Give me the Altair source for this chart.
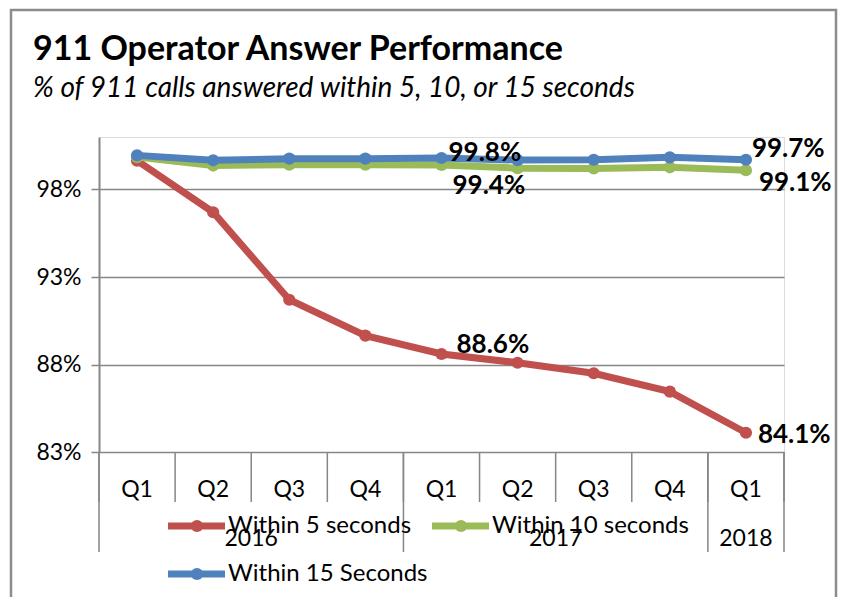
import altair as alt
import pandas as pd

# ---- data ----
quarters = ["Q1", "Q2", "Q3", "Q4", "Q1", "Q2", "Q3", "Q4", "Q1"]
years = ["2016", "2016", "2016", "2016", "2017", "2017", "2017", "2017", "2018"]
year_names = ["2016", "2017", "2018"]
within5 = [99.65, 96.7, 91.7, 89.65, 88.6, 88.1, 87.5, 86.45, 84.1]
within10 = [99.85, 99.37, 99.42, 99.42, 99.4, 99.22, 99.2, 99.27, 99.1]
within15 = [99.95, 99.67, 99.76, 99.76, 99.8, 99.68, 99.7, 99.84, 99.7]
series_names = ["Within 5 seconds", "Within 10 seconds", "Within 15 Seconds"]
series_colors = ["#C0504D", "#9BBB59", "#4F81BD"]
y_ticks = [83, 88, 93, 98]

FONT = "Lato"
GRID = "#868686"

rows = []
for name, vals in zip(series_names, [within5, within10, within15]):
    for i, v in enumerate(vals):
        rows.append({"idx": i, "quarter": quarters[i], "year": years[i],
                     "series": name, "value": v,
                     "label": f"{v:.1f}%"})
df = pd.DataFrame(rows)

qdf = pd.DataFrame({"idx": list(range(len(quarters))), "quarter": quarters})
# category boundaries
bounds = pd.DataFrame({"b": [i - 0.5 for i in range(len(quarters) + 1)]})
year_bounds = [-0.5] + [i + 0.5 for i in range(len(years) - 1) if years[i] != years[i + 1]] + [len(years) - 0.5]
ybdf = pd.DataFrame({"b": year_bounds})
ylab = pd.DataFrame({
    "year": year_names,
    "pos": [sum(i for i, y in enumerate(years) if y == yn) / years.count(yn) for yn in year_names],
})

xscale = alt.Scale(domain=[-0.5, len(quarters) - 0.5], nice=False, zero=False)
yscale = alt.Scale(domain=[83, 101], nice=False, zero=False)

X = alt.X("idx:Q", scale=xscale, axis=None)

base_axes = alt.Chart(df).mark_line(opacity=0).encode(
    x=X,
    y=alt.Y("value:Q", scale=yscale, title=None,
            axis=alt.Axis(values=y_ticks, labelExpr="datum.value + '%'",
                          grid=True, gridColor=GRID, gridWidth=1.5,
                          domainColor=GRID, domainWidth=2,
                          tickColor=GRID, tickWidth=1.5, tickSize=8,
                          labelPadding=10, labelFont=FONT, labelFontSize=23,
                          labelColor="#000000")),
)

layers = [base_axes]

# separators below the axis
layers.append(alt.Chart(bounds).mark_rule(color=GRID, strokeWidth=1.5).encode(
    x=alt.X("b:Q", scale=xscale, axis=None),
    y=alt.value(315), y2=alt.value(365)))
layers.append(alt.Chart(ybdf).mark_rule(color=GRID, strokeWidth=1.5).encode(
    x=alt.X("b:Q", scale=xscale, axis=None),
    y=alt.value(315), y2=alt.value(415)))
# quarter labels
layers.append(alt.Chart(qdf).mark_text(font=FONT, fontSize=23, color="#000000", baseline="middle").encode(
    x=alt.X("idx:Q", scale=xscale, axis=None), y=alt.value(353), text="quarter:N"))
# year labels
layers.append(alt.Chart(ylab).mark_text(font=FONT, fontSize=23, color="#000000", baseline="middle").encode(
    x=alt.X("pos:Q", scale=xscale, axis=None), y=alt.value(402), text="year:N"))

# series lines
for name, col in zip(series_names, series_colors):
    layers.append(alt.Chart(df).transform_filter(alt.datum.series == name).mark_line(
        color=col, strokeWidth=7,
        point=alt.OverlayMarkDef(filled=True, size=150, color=col, opacity=1)).encode(
        x=X, y=alt.Y("value:Q", scale=yscale)))

# data labels (dx, dy per label)
label_offsets = {
    ("Within 5 seconds", 4): (15, -9),
    ("Within 5 seconds", 8): (12, 2),
    ("Within 10 seconds", 4): (11, 21),
    ("Within 10 seconds", 8): (13, 13),
    ("Within 15 Seconds", 4): (7, -5),
    ("Within 15 Seconds", 8): (6, -11),
}
for (name, i), (dx, dy) in label_offsets.items():
    layers.append(alt.Chart(df).transform_filter(
        (alt.datum.series == name) & (alt.datum.idx == i)).mark_text(
        font=FONT, fontSize=26, fontWeight="bold", align="left", baseline="middle",
        dx=dx, dy=dy, color="#000000").encode(
        x=X, y=alt.Y("value:Q", scale=yscale), text="label:N"))

# legend (manual)
one = pd.DataFrame({"k": [0]})
legend_pos = [(69, 389), (333, 389), (69, 437)]
for name, col, (lx, ly) in zip(series_names, series_colors, legend_pos):
    layers.append(alt.Chart(one).mark_rule(color=col, strokeWidth=7).encode(
        x=alt.value(lx), x2=alt.value(lx + 57), y=alt.value(ly)))
    layers.append(alt.Chart(one).mark_point(filled=True, size=150, color=col, opacity=1).encode(
        x=alt.value(lx + 29), y=alt.value(ly)))
    layers.append(alt.Chart(one).mark_text(text=name, font=FONT, fontSize=24, align="left",
                                           baseline="middle", color="#000000").encode(
        x=alt.value(lx + 60), y=alt.value(ly)))

# title / subtitle
layers.append(alt.Chart(one).mark_text(text="911 Operator Answer Performance", font=FONT,
                                       fontSize=34, fontWeight="bold", align="left",
                                       baseline="alphabetic", color="#000000").encode(
    x=alt.value(-66), y=alt.value(-77)))
layers.append(alt.Chart(one).mark_text(text="% of 911 calls answered within 5, 10, or 15 seconds",
                                       font=FONT, fontSize=28, fontStyle="italic", align="left",
                                       baseline="alphabetic", color="#000000").encode(
    x=alt.value(-66), y=alt.value(-40)))

# outer border
layers.append(alt.Chart(one).mark_rect(fill=None, stroke="#8c8c8c", strokeWidth=2.5).encode(
    x=alt.value(-88), x2=alt.value(737), y=alt.value(-127), y2=alt.value(480)))

chart = alt.layer(*layers).properties(
    width=685, height=315,
    autosize=alt.AutoSizeParams(type="none"),
    padding={"left": 91, "top": 129, "right": 54, "bottom": 145},
).configure_view(stroke=None).configure(background="white")

chart.save("out.html", embed_options={"renderer": "svg", "actions": False})
